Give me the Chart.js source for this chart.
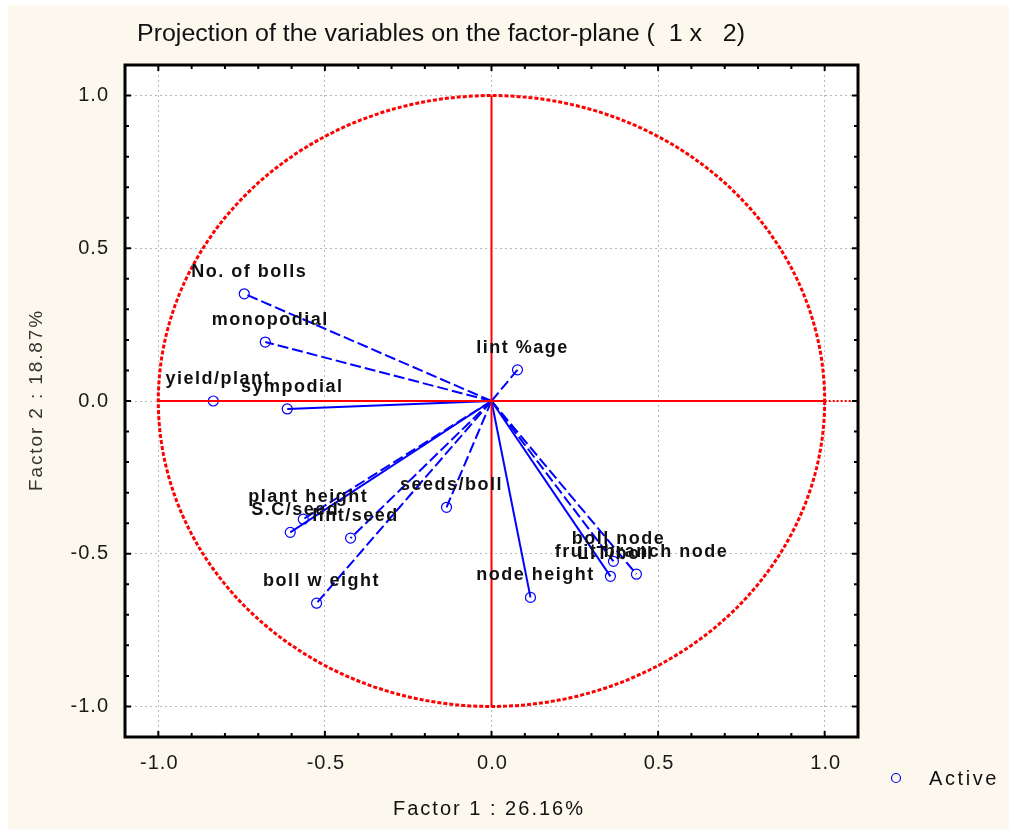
<!DOCTYPE html>
<html>
<head>
<meta charset="utf-8">
<script src="https://cdn.jsdelivr.net/npm/chart.js@4/dist/chart.umd.min.js"></script>
<style>
  html, body { margin: 0; padding: 0; background: #fff; }
  canvas { display: block; }
</style>
</head>
<body>
<canvas id="pca" width="1009" height="829"></canvas>
<script>
// variables and their coordinates on factor 1 / factor 2
const variables = ['No. of bolls', 'monopodial', 'yield/plant', 'sympodial', 'lint %age',
  'plant height', 'S.C/seed', 'lint/seed', 'seeds/boll', 'boll w eight',
  'node height', 'boll node', 'fruit branch node', 'L.T/boll'];
const factor1 = [-0.742, -0.679, -0.835, -0.613, 0.078,
  -0.565, -0.604, -0.423, -0.135, -0.525,
  0.117, 0.366, 0.435, 0.357];
const factor2 = [0.351, 0.193, 0.000, -0.026, 0.102,
  -0.387, -0.430, -0.449, -0.348, -0.662,
  -0.643, -0.525, -0.567, -0.574];

const tickValues = [-1.0, -0.5, 0.0, 0.5, 1.0];
const tickLabels = ['-1.0', '-0.5', '0.0', '0.5', '1.0'];

const titleText = 'Projection of the variables on the factor-plane (  1 x   2)';
const xTitle = 'Factor 1 : 26.16%';
const yTitle = 'Factor 2 : 18.87%';
const legendText = 'Active';

// which vectors are drawn with a solid line (the rest are dashed)
const solidVars = ['yield/plant', 'sympodial', 'S.C/seed', 'node height', 'L.T/boll'];

const BLUE = '#0000ff';
const RED = '#ff0000';

// stretch text to a width with letter spacing
function fitText(ctx, text, x, y, width, align) {
  ctx.letterSpacing = '0px';
  const w = ctx.measureText(text).width;
  const sp = (width - w) / text.length;
  ctx.letterSpacing = sp + 'px';
  let left = x;
  if (align === 'center') left = x - width / 2;
  if (align === 'right') left = x - width;
  ctx.textAlign = 'left';
  ctx.fillText(text, left, y);
  ctx.letterSpacing = '0px';
}

// squeeze text horizontally to a width (narrow look)
function squeezeText(ctx, text, x, y, width) {
  ctx.letterSpacing = '0px';
  const w = ctx.measureText(text).width;
  ctx.save();
  ctx.translate(x, y);
  ctx.scale(width / w, 1);
  ctx.textAlign = 'left';
  ctx.fillText(text, 0, 0);
  ctx.restore();
}

const datasets = variables.map((name, i) => ({
  label: name,
  data: [{ x: 0, y: 0 }, { x: factor1[i], y: factor2[i] }],
  showLine: true,
  borderColor: BLUE,
  borderWidth: 2,
  borderDash: solidVars.includes(name) ? [] : [11, 4],
  pointRadius: [0, 5],
  pointBorderWidth: 1.2,
  pointBorderColor: BLUE,
  pointBackgroundColor: 'rgba(0,0,0,0)',
  pointStyle: 'circle'
}));

const decor = {
  id: 'decor',
  beforeDraw(chart) {
    const { ctx, chartArea: a } = chart;
    ctx.save();
    ctx.fillStyle = '#ffffff';
    ctx.fillRect(0, 0, chart.width, chart.height);
    ctx.fillStyle = '#fcf8ee';
    ctx.fillRect(8, 5, chart.width - 8, chart.height - 5);
    ctx.fillStyle = '#ffffff';
    ctx.fillRect(a.left, a.top, a.right - a.left, a.bottom - a.top);
    ctx.restore();
  },
  afterDatasetsDraw(chart) {
    const { ctx, chartArea: a, scales: { x, y } } = chart;
    const cx = x.getPixelForValue(0), cy = y.getPixelForValue(0);
    const rx = x.getPixelForValue(1) - cx, ry = cy - y.getPixelForValue(1);

    ctx.save();
    // unit circle
    ctx.strokeStyle = RED;
    ctx.lineWidth = 3;
    ctx.setLineDash([4, 2]);
    ctx.beginPath();
    ctx.ellipse(cx, cy, rx, ry, 0, 0, Math.PI * 2);
    ctx.stroke();
    // axes through origin
    ctx.setLineDash([]);
    ctx.lineWidth = 2;
    ctx.beginPath();
    ctx.moveTo(x.getPixelForValue(-1), cy);
    ctx.lineTo(x.getPixelForValue(1), cy);
    ctx.moveTo(cx, y.getPixelForValue(1));
    ctx.lineTo(cx, y.getPixelForValue(-1));
    ctx.stroke();
    ctx.setLineDash([2, 2]);
    ctx.beginPath();
    ctx.moveTo(x.getPixelForValue(1), cy);
    ctx.lineTo(a.right, cy);
    ctx.stroke();
    ctx.setLineDash([]);

    // variable labels
    ctx.fillStyle = '#111';
    ctx.font = 'bold 18px "Liberation Sans", Arial, sans-serif';
    ctx.textBaseline = 'middle';
    ctx.textAlign = 'center';
    ctx.letterSpacing = '1.5px';
    variables.forEach((name, i) => {
      const px = x.getPixelForValue(factor1[i]) + 5;
      const py = y.getPixelForValue(factor2[i]) - 22;
      ctx.fillText(name, px, py);
    });
    ctx.letterSpacing = '0px';
    ctx.restore();
  },
  afterDraw(chart) {
    const { ctx, chartArea: a, scales: { x, y } } = chart;
    ctx.save();
    // frame
    ctx.strokeStyle = '#000';
    ctx.lineWidth = 3;
    ctx.strokeRect(a.left, a.top, a.right - a.left, a.bottom - a.top);
    // inward tick marks every 0.1
    ctx.lineWidth = 2;
    ctx.beginPath();
    for (let k = -10; k <= 10; k++) {
      const v = k / 10;
      const len = k % 5 === 0 ? 6 : 4;
      const px = x.getPixelForValue(v);
      const py = y.getPixelForValue(v);
      ctx.moveTo(px, a.bottom); ctx.lineTo(px, a.bottom - len);
      ctx.moveTo(px, a.top); ctx.lineTo(px, a.top + len);
      ctx.moveTo(a.left, py); ctx.lineTo(a.left + len, py);
      ctx.moveTo(a.right, py); ctx.lineTo(a.right - len, py);
    }
    ctx.stroke();

    // tick labels
    ctx.fillStyle = '#1a1a1a';
    ctx.font = '20px "Liberation Sans", Arial, sans-serif';
    ctx.textBaseline = 'middle';
    ctx.letterSpacing = '1px';
    tickValues.forEach((v, i) => {
      ctx.textAlign = 'center';
      ctx.fillText(tickLabels[i], x.getPixelForValue(v) + 1, a.bottom + 26);
      ctx.textAlign = 'right';
      ctx.fillText(tickLabels[i], a.left - 16, y.getPixelForValue(v));
    });
    ctx.letterSpacing = '0px';

    // title
    ctx.fillStyle = '#111';
    ctx.font = '23px "Liberation Sans", Arial, sans-serif';
    squeezeText(ctx, titleText, 137, 35, 608);

    // axis titles
    ctx.font = '20px "Liberation Sans", Arial, sans-serif';
    fitText(ctx, xTitle, 489, 809, 192, 'center');
    ctx.save();
    ctx.translate(37, 400);
    ctx.rotate(-Math.PI / 2);
    ctx.font = '19px "Liberation Sans", Arial, sans-serif';
    ctx.fillStyle = '#333';
    fitText(ctx, yTitle, 0, 0, 182, 'center');
    ctx.restore();

    // legend
    ctx.strokeStyle = BLUE;
    ctx.lineWidth = 1.2;
    ctx.beginPath();
    ctx.arc(896, 778, 4.5, 0, Math.PI * 2);
    ctx.stroke();
    ctx.fillStyle = '#111';
    ctx.font = '20px "Liberation Sans", Arial, sans-serif';
    fitText(ctx, legendText, 929, 779, 70, 'left');
    ctx.restore();
  }
};

new Chart(document.getElementById('pca'), {
  type: 'scatter',
  data: { datasets },
  options: {
    responsive: false,
    animation: false,
    devicePixelRatio: 1,
    layout: { padding: { left: 8, top: 65, right: 151, bottom: 0 } },
    plugins: { legend: { display: false }, tooltip: { enabled: false }, title: { display: false } },
    scales: {
      x: {
        type: 'linear', min: -1.1, max: 1.1,
        afterBuildTicks(s) { s.ticks = tickValues.map(v => ({ value: v })); },
        afterFit(s) { s.height = 92; },
        ticks: { display: false },
        grid: { color: '#b8b8b8', lineWidth: 1, drawTicks: false },
        border: { display: false, dash: [2, 3] }
      },
      y: {
        type: 'linear', min: -1.1, max: 1.1,
        afterBuildTicks(s) { s.ticks = tickValues.map(v => ({ value: v })); },
        afterFit(s) { s.width = 117; },
        ticks: { display: false },
        grid: { color: '#b8b8b8', lineWidth: 1, drawTicks: false },
        border: { display: false, dash: [2, 3] }
      }
    }
  },
  plugins: [decor]
});
</script>
</body>
</html>
